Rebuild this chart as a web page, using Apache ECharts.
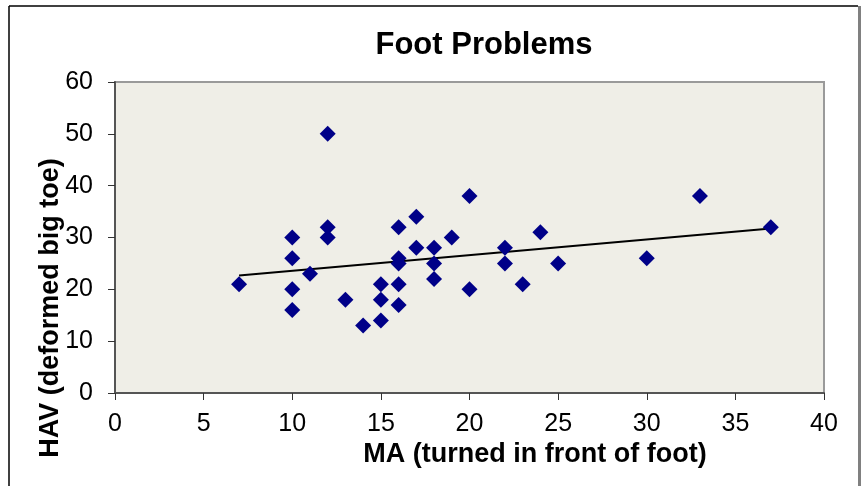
<!DOCTYPE html>
<html>
<head>
<meta charset="utf-8">
<script src="https://cdn.jsdelivr.net/npm/echarts@6/dist/echarts.min.js"></script>
<style>
html,body{margin:0;padding:0;background:#fff;}
#c{width:864px;height:486px;}
</style>
</head>
<body>
<div id="c"></div>
<script>
// MA (turned in front of foot) values
var maValues = [7,10,10,10,10,11,12,12,12,13,14,15,15,15,16,16,16,16,16,17,17,18,18,18,19,20,20,22,22,23,24,25,30,33,37];
// HAV (deformed big toe) values
var havValues = [21,30,26,20,16,23,50,32,30,18,13,21,18,14,32,26,25,21,17,34,28,28,25,22,30,38,20,28,25,21,31,25,26,38,32];
var xTicks = [0,5,10,15,20,25,30,35,40];
var yTicks = [0,10,20,30,40,50,60];
var titleText = 'Foot Problems';
var xName = 'MA (turned in front of foot)';
var yName = 'HAV (deformed big toe)';

var points = maValues.map(function(x,i){return [x, havValues[i]];});

// least-squares trendline (as in the original spreadsheet chart)
var n = points.length, sx=0, sy=0, sxx=0, sxy=0;
points.forEach(function(p){sx+=p[0]; sy+=p[1]; sxx+=p[0]*p[0]; sxy+=p[0]*p[1];});
var slope = (n*sxy - sx*sy)/(n*sxx - sx*sx);
var icpt = (sy - slope*sx)/n;
var xMin = Math.min.apply(null, maValues), xMax = Math.max.apply(null, maValues);
var trend = [[xMin, icpt+slope*xMin],[xMax, icpt+slope*xMax]];

var chart = echarts.init(document.getElementById('c'), null, {renderer:'canvas'});
var font = '"Liberation Sans", Arial, sans-serif';
chart.setOption({
  animation:false,
  backgroundColor:'#ffffff',
  textStyle:{fontFamily:font},
  grid:{left:115, top:82, right:40, bottom:93, show:true, backgroundColor:'#EFEEE7', borderColor:'#9a9a9a', borderWidth:2},
  xAxis:{
    type:'value', min:xTicks[0], max:xTicks[xTicks.length-1], interval:5,
    axisLine:{show:true, onZero:false, lineStyle:{color:'#555', width:2}},
    axisTick:{show:true, length:7, lineStyle:{color:'#333', width:1}},
    axisLabel:{color:'#000', fontSize:25, margin:19, fontFamily:font},
    splitLine:{show:false}
  },
  yAxis:{
    type:'value', min:yTicks[0], max:yTicks[yTicks.length-1], interval:10,
    axisLine:{show:true, onZero:false, lineStyle:{color:'#555', width:2}},
    axisTick:{show:true, length:7, lineStyle:{color:'#333', width:1}},
    axisLabel:{color:'#000', fontSize:25, margin:22, fontFamily:font},
    splitLine:{show:false}
  },
  series:[
    {type:'line', data:trend, symbol:'none', lineStyle:{color:'#000', width:2}, z:3, silent:true},
    {type:'scatter', data:points, symbol:'diamond', symbolSize:16, itemStyle:{color:'#000088', opacity:1}, z:4}
  ],
  graphic:[
    {type:'line', shape:{x1:9,y1:6,x2:9,y2:486}, style:{stroke:'#000', lineWidth:1.5}},
    {type:'line', shape:{x1:9,y1:6,x2:858,y2:6}, style:{stroke:'#000', lineWidth:1.5}},
    {type:'rect', shape:{x:858,y:6,width:3,height:480}, style:{fill:'#808080'}},
    {type:'text', x:484, y:45, style:{text:titleText, x:0, y:0, align:'center', verticalAlign:'middle', font:'bold 31px '+font, fill:'#000'}},
    {type:'text', x:535, y:455, style:{text:xName, x:0, y:0, align:'center', verticalAlign:'middle', font:'bold 27px '+font, fill:'#000'}},
    {type:'text', rotation:Math.PI/2, x:51, y:308, style:{text:yName, x:0, y:0, align:'center', verticalAlign:'middle', font:'bold 27px '+font, fill:'#000'}}
  ]
});
</script>
</body>
</html>
